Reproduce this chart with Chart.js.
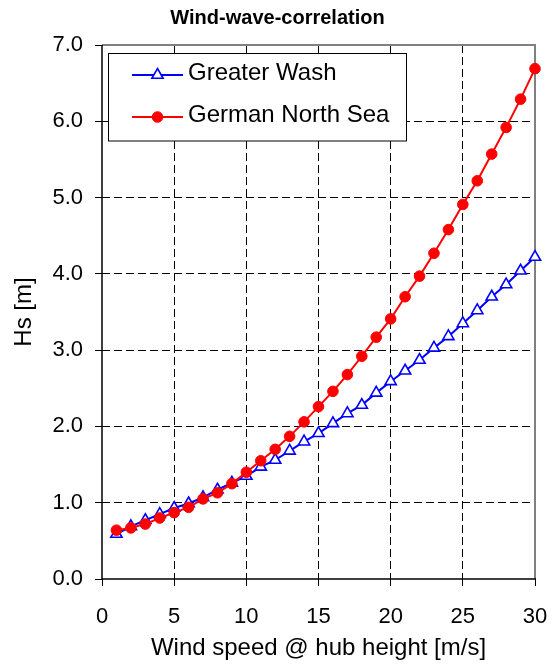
<!DOCTYPE html>
<html>
<head>
<meta charset="utf-8">
<script src="https://cdn.jsdelivr.net/npm/chart.js@4"></script>
<style>
  body { margin: 0; background: #fff; }
  #wrap { width: 555px; height: 664px; }
</style>
</head>
<body>
<div id="wrap"><canvas id="chart__wind__wave" width="555" height="664"></canvas></div>
<script>
const chartWindWave = document.getElementById('chart__wind__wave')

// wind speed at hub height [m/s]
const windSpeed = [1, 2, 3, 4, 5, 6, 7, 8, 9, 10, 11, 12, 13, 14, 15, 16, 17, 18, 19, 20, 21, 22, 23, 24, 25, 26, 27, 28, 29, 30]
// significant wave height Hs [m]
const greaterWash = [0.59, 0.69, 0.77, 0.85, 0.93, 0.99, 1.07, 1.17, 1.26, 1.35, 1.47, 1.56, 1.68, 1.80, 1.91, 2.04, 2.17, 2.28, 2.44, 2.59, 2.73, 2.87, 3.03, 3.18, 3.35, 3.52, 3.70, 3.86, 4.04, 4.22]
const germanNorthSea = [0.64, 0.67, 0.72, 0.80, 0.87, 0.94, 1.05, 1.13, 1.25, 1.40, 1.55, 1.70, 1.87, 2.06, 2.26, 2.46, 2.68, 2.92, 3.17, 3.41, 3.70, 3.97, 4.27, 4.58, 4.91, 5.22, 5.57, 5.92, 6.29, 6.69]
const seriesNames = ['Greater Wash', 'German North Sea']

const chartTitle = 'Wind-wave-correlation'
const xTitle = 'Wind speed @ hub height [m/s]'
const yTitle = 'Hs [m]'
const xMin = 0, xMax = 30, xStep = 5
const yMin = 0, yMax = 7, yStep = 1

function toPoints(xs, ys) {
    return xs.map((x, i) => ({ x: x, y: ys[i] }))
}

const FONT = '"Liberation Sans", Arial, sans-serif'

// frame, title and legend box like the excel original
const excelFrame = {
    id: 'excelFrame',
    beforeDatasetsDraw(chart) {
        const { ctx, chartArea: a } = chart
        ctx.save()
        ctx.strokeStyle = '#808080'
        ctx.lineWidth = 2
        ctx.beginPath()
        ctx.moveTo(a.left, a.top)
        ctx.lineTo(a.right, a.top)
        ctx.lineTo(a.right, a.bottom)
        ctx.stroke()
        ctx.strokeStyle = '#000'
        ctx.lineWidth = 1.5
        ctx.beginPath()
        ctx.moveTo(a.left, a.top)
        ctx.lineTo(a.left, a.bottom)
        ctx.lineTo(a.right + 1, a.bottom)
        ctx.stroke()
        ctx.restore()
    },
    afterDatasetsDraw(chart) {
        const { ctx } = chart
        ctx.save()
        // legend box
        ctx.fillStyle = '#fff'
        ctx.strokeStyle = '#000'
        ctx.lineWidth = 1
        ctx.fillRect(108.5, 53.5, 298, 87.5)
        ctx.strokeRect(108.5, 53.5, 298, 87.5)
        const rows = [75, 117]
        chart.data.datasets.forEach((ds, i) => {
            const y = rows[i]
            ctx.strokeStyle = ds.borderColor
            ctx.lineWidth = ds.borderWidth
            ctx.beginPath()
            ctx.moveTo(132, y)
            ctx.lineTo(183, y)
            ctx.stroke()
            ctx.fillStyle = ds.pointBackgroundColor
            ctx.lineWidth = ds.pointBorderWidth
            Chart.helpers.drawPoint(ctx, {
                pointStyle: ds.pointStyle,
                radius: ds.pointRadius,
                borderWidth: ds.pointBorderWidth,
                rotation: 0
            }, 157.5, y)
            ctx.fillStyle = '#000'
            ctx.font = '24px ' + FONT
            ctx.textBaseline = 'middle'
            ctx.textAlign = 'left'
            ctx.fillText(ds.label, 188, y - 1.5)
        })
        ctx.restore()
    },
    afterDraw(chart) {
        const { ctx } = chart
        ctx.save()
        ctx.fillStyle = '#000'
        ctx.font = 'bold 20px ' + FONT
        ctx.textAlign = 'center'
        ctx.textBaseline = 'middle'
        ctx.fillText(chartTitle, 277.5, 18)
        ctx.restore()
    }
}

function gridColor(ctx) {
    const v = ctx.tick ? ctx.tick.value : null
    const s = ctx.scale
    if (v === s.min || v === s.max) return 'rgba(0,0,0,0)'
    return '#000'
}

new Chart(chartWindWave, {
    type: 'line',
    data: {
        datasets: [{
            label: seriesNames[0],
            data: toPoints(windSpeed, greaterWash),
            borderColor: '#0000ff',
            borderWidth: 2,
            pointStyle: 'triangle',
            pointRadius: 6.5,
            pointBorderWidth: 1.6,
            pointBorderColor: '#0000ff',
            pointBackgroundColor: '#ffffff',
            tension: 0,
            order: 2,
            clip: false
        }, {
            label: seriesNames[1],
            data: toPoints(windSpeed, germanNorthSea),
            borderColor: '#ff0000',
            borderWidth: 2,
            pointStyle: 'circle',
            pointRadius: 5.3,
            pointBorderWidth: 1,
            pointBorderColor: '#ff0000',
            pointBackgroundColor: '#ff0000',
            tension: 0,
            order: 1,
            clip: false
        }]
    },
    options: {
        responsive: false,
        animation: false,
        events: [],
        layout: {
            padding: { top: 45, right: 20, left: 0, bottom: 0 }
        },
        plugins: {
            legend: { display: false },
            title: { display: false },
            tooltip: { enabled: false }
        },
        scales: {
            x: {
                type: 'linear',
                min: xMin,
                max: xMax,
                afterFit: (scale) => {
                    scale.height = 85
                    // tick padding would otherwise push the plot away from the right edge
                    scale.paddingRight = 0
                    scale.paddingLeft = 0
                },
                border: { display: false, dash: [8, 4] },
                grid: {
                    color: gridColor,
                    lineWidth: 1,
                    tickColor: '#000',
                    tickLength: 7,
                    tickWidth: 1
                },
                ticks: {
                    stepSize: xStep,
                    color: '#000',
                    padding: 18,
                    maxRotation: 0,
                    font: { family: FONT, size: 22 }
                },
                title: {
                    display: true,
                    text: xTitle,
                    color: '#000',
                    padding: { top: 0, bottom: 1 },
                    font: { family: FONT, size: 24 }
                }
            },
            y: {
                min: yMin,
                max: yMax,
                afterFit: (scale) => { scale.width = 102 },
                border: { display: false, dash: [8, 4] },
                grid: {
                    color: gridColor,
                    lineWidth: 1,
                    tickColor: '#000',
                    tickLength: 7,
                    tickWidth: 1
                },
                ticks: {
                    stepSize: yStep,
                    color: '#000',
                    padding: 12,
                    font: { family: FONT, size: 22 },
                    callback: (v) => Number(v).toFixed(1)
                },
                title: {
                    display: true,
                    text: yTitle,
                    color: '#000',
                    padding: { top: 10, bottom: 0 },
                    font: { family: FONT, size: 24 }
                }
            }
        }
    },
    plugins: [excelFrame]
});
</script>
</body>
</html>
